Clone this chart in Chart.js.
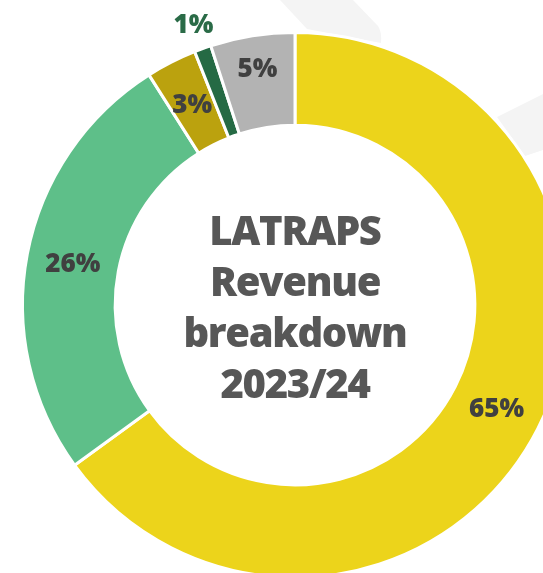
<!DOCTYPE html>
<html>
<head>
<meta charset="utf-8">
<script src="https://cdn.jsdelivr.net/npm/chart.js@4.4.1/dist/chart.umd.min.js"></script>
<style>
  html, body { margin: 0; padding: 0; width: 543px; height: 573px; overflow: hidden; background: #fff; }
  #bg { position: absolute; left: 0; top: 0; }
  #wrap { position: absolute; left: 0; top: 0; width: 600px; height: 600px; }
  #center { position: absolute; left: 145px; top: 204px; width: 300px; text-align: center;
            font-family: "Open Sans", "Lato", sans-serif; font-weight: 800; font-size: 40px;
            line-height: 51px; color: #575757; letter-spacing: -1.3px; }
</style>
</head>
<body>
<canvas id="bg" width="543" height="573"></canvas>
<div id="wrap"><canvas id="c" width="600" height="600"></canvas></div>
<div id="center">LATRAPS<br>Revenue<br>breakdown<br>2023/24</div>
<script>
const categories = ["Segment A", "Segment B", "Segment C", "Segment D", "Segment E"];
const values = [65, 26, 3, 1, 5];
const labels = ["65%", "26%", "3%", "1%", "5%"];
const colors = ["#ECD41B", "#5EBF89", "#BBA20E", "#256A44", "#B3B3B3"];
const labelColors = ["#404040", "#404040", "#404040", "#2A6B47", "#404040"];

// decorative background shapes
(function(){
  const ctx = document.getElementById('bg').getContext('2d');
  ctx.fillStyle = '#F4F4F4';
  ctx.beginPath();
  ctx.moveTo(280,0); ctx.lineTo(353,0); ctx.lineTo(378,26); ctx.quadraticCurveTo(382,32,381,43);
  ctx.lineTo(307,29); ctx.closePath(); ctx.fill();
  ctx.beginPath();
  ctx.moveTo(497,117); ctx.lineTo(543,94); ctx.lineTo(543,150); ctx.lineTo(525,156); ctx.closePath(); ctx.fill();
})();

const labelPlugin = {
  id: 'sliceLabels',
  afterDatasetsDraw(chart) {
    const ctx = chart.ctx;
    const meta = chart.getDatasetMeta(0);
    ctx.save();
    ctx.font = '800 26px "Open Sans", "Lato", sans-serif';
    ctx.textAlign = 'center';
    ctx.textBaseline = 'middle';
    meta.data.forEach((arc, i) => {
      const p = arc.getProps(['startAngle','endAngle','innerRadius','outerRadius','x','y'], true);
      const mid = (p.startAngle + p.endAngle) / 2;
      const frac = values[i] / values.reduce((a,b)=>a+b,0);
      let r = (p.innerRadius + p.outerRadius) / 2;
      if (frac < 0.02) r = p.outerRadius + 27;
      else if (frac < 0.06 && frac > 0.04) r = r + 14;
      ctx.fillStyle = labelColors[i];
      ctx.fillText(labels[i], p.x + Math.cos(mid) * r, p.y + Math.sin(mid) * r + 2);
    });
    ctx.restore();
  }
};

new Chart(document.getElementById('c'), {
  type: 'doughnut',
  data: {
    labels: categories,
    datasets: [{
      data: values,
      backgroundColor: colors,
      borderColor: '#ffffff',
      borderWidth: 3
    }]
  },
  options: {
    responsive: false,
    animation: false,
    cutout: '66%',
    layout: { padding: { left: 21, top: 31, right: 31, bottom: 21 } },
    plugins: { legend: { display: false }, tooltip: { enabled: false } }
  },
  plugins: [labelPlugin]
});
</script>
</body>
</html>
